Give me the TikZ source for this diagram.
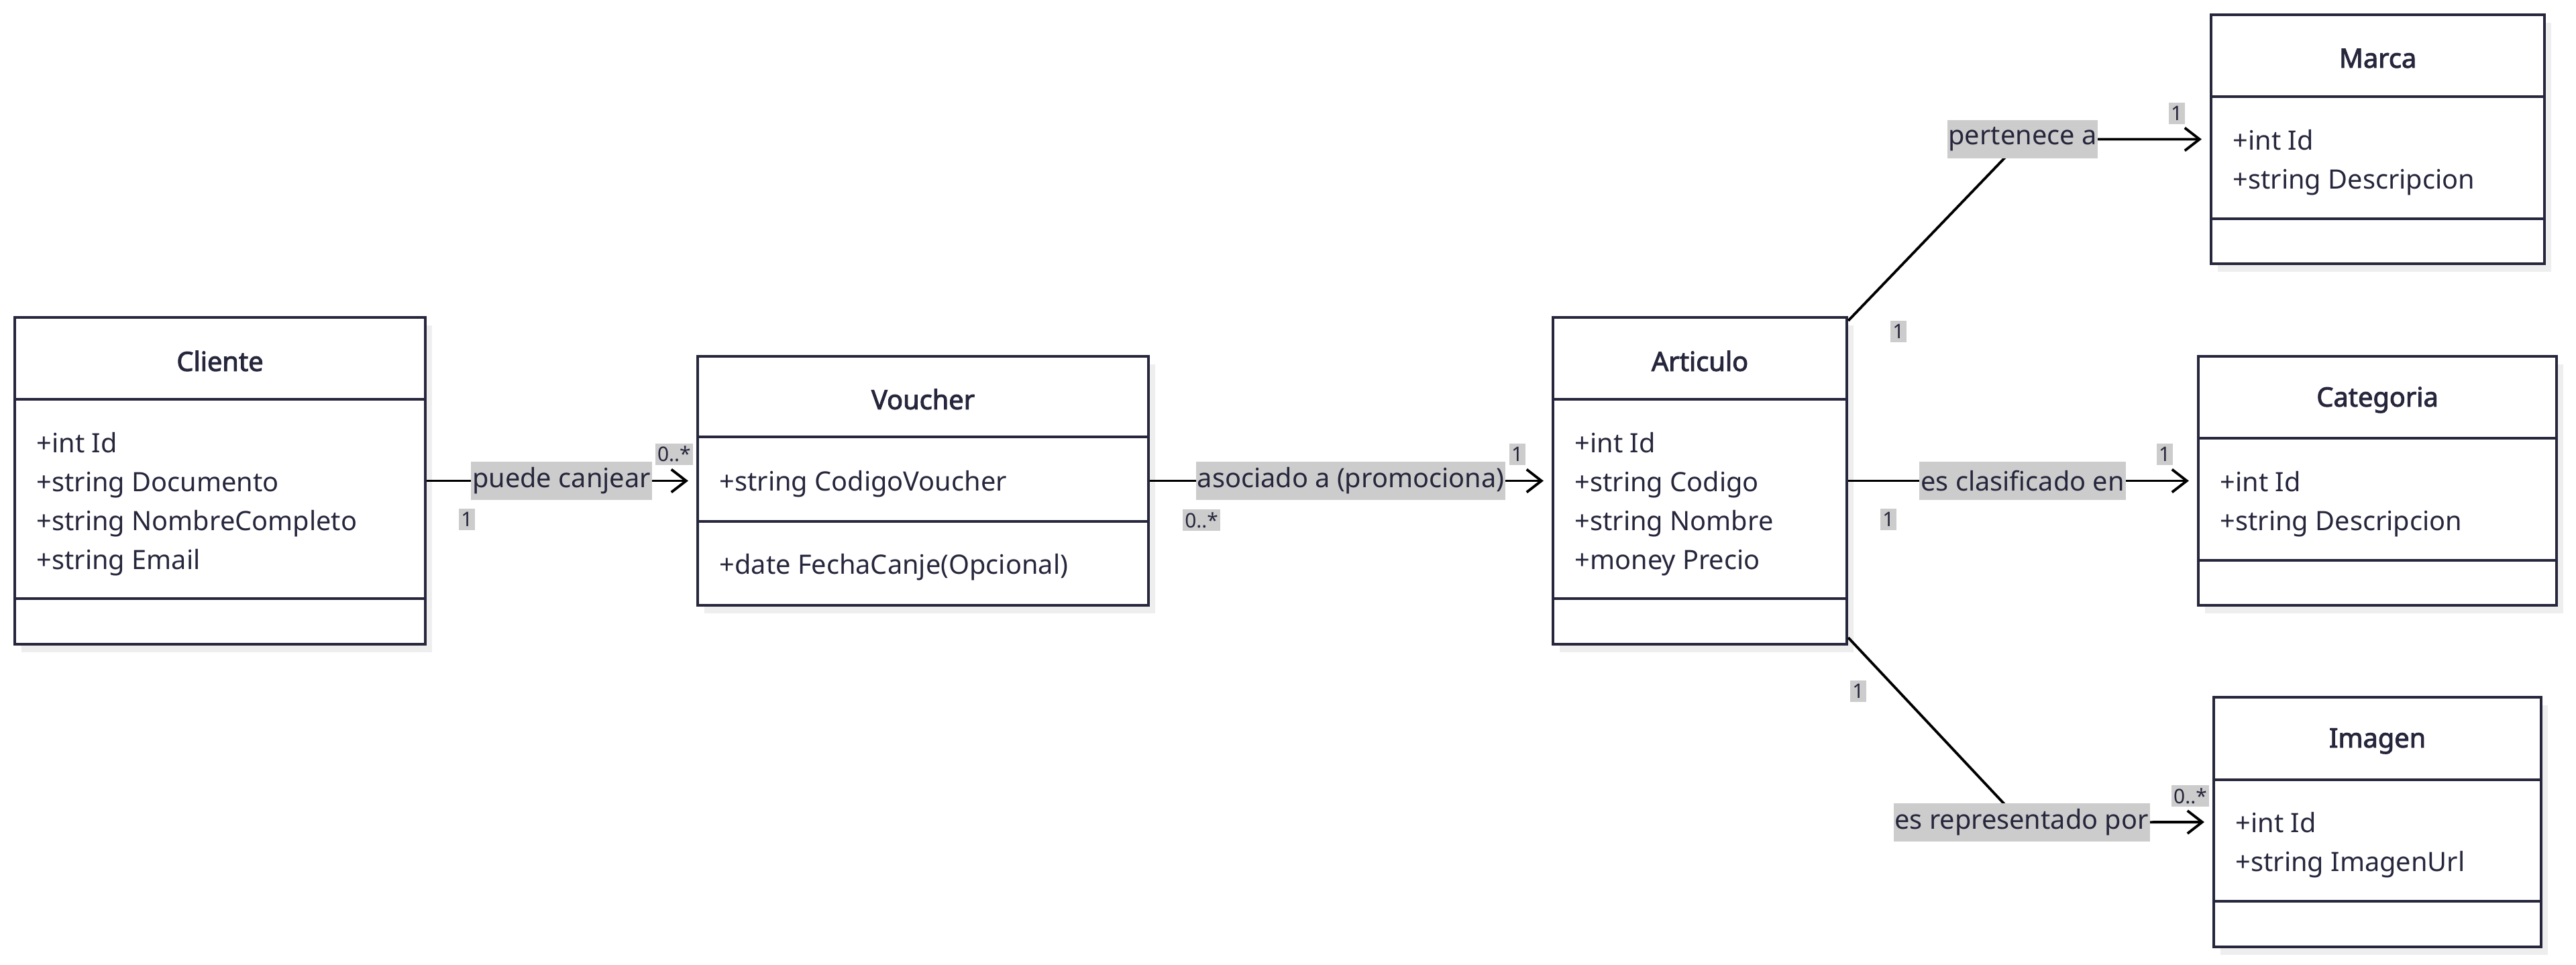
\documentclass[tikz,border=0pt]{standalone}
\usepackage{fontspec}
\setmainfont{Noto Sans}[AutoFakeBold=2.5]
\usetikzlibrary{positioning,calc,arrows.meta,shadows}
\definecolor{ink}{HTML}{26263C}
\definecolor{lblgray}{HTML}{CCCCCC}
\definecolor{shade}{HTML}{EEEEEE}

\begin{document}
\begin{tikzpicture}[cls/.style={draw=ink,line width=1.2pt,fill=white,inner sep=0pt,
drop shadow={shadow xshift=0.1cm,shadow yshift=-0.12cm,fill=shade,opacity=1}},
sep/.style={draw=ink,line width=1.2pt},
title/.style={text=ink,font=\fontsize{11.3}{14}\selectfont\bfseries},
attr/.style={text=ink,anchor=west,align=left,inner sep=0pt,font=\fontsize{11.3}{16.5}\selectfont},
lbl/.style={fill=lblgray,text=ink,inner xsep=0.5pt,inner ysep=0pt,minimum height=0.57cm,font=\fontsize{11.3}{14}\selectfont},
mult/.style={fill=lblgray,text=ink,inner xsep=1pt,inner ysep=0pt,minimum height=0.32cm,font=\fontsize{8.5}{10}\selectfont},
assoc/.style={draw=black,line width=1.1pt,-{Straight Barb[length=0.22cm,width=0.34cm]},shorten >=0.12cm}]

\useasboundingbox (0,0) rectangle (38.4,-14.37);

%classes
\foreach \N/\X/\Y/\W/\H/\A/\B in {cliente/3.28/-7.165/6.12/4.87/1.24/4.21,
	voucher/13.76/-7.165/6.72/3.71/1.22/2.48,
	articulo/25.34/-7.165/4.38/4.87/1.24/4.21,
	marca/35.445/-2.075/4.97/3.71/1.24/3.06,
	categoria/35.44/-7.165/5.34/3.71/1.24/3.06,
	imagen/35.44/-12.25/4.88/3.72/1.25/3.06}
{
	\node[cls,minimum width=\W cm,minimum height=\H cm] (\N) at (\X,\Y) {};
	\draw[sep] ($(\N.north west)+(0,-\A)$) -- ($(\N.north east)+(0,-\A)$);
	\draw[sep] ($(\N.north west)+(0,-\B)$) -- ($(\N.north east)+(0,-\B)$);
}

% titles
\foreach \N/\T/\A in {cliente/Cliente/0.67,voucher/Voucher/0.66,articulo/Articulo/0.67,
	marca/Marca/0.67,categoria/Categoria/0.67,imagen/Imagen/0.675}
	\node[title] (\N-t) at ($(\N.north)+(0,-\A)$) {\T};

% attributes
\node[attr] (cliente-a) at ($(cliente.north west)+(0.34,-2.8)$)
	{+int Id\\+string Documento\\+string NombreCompleto\\+string Email};
\node[attr] (voucher-a) at ($(voucher.north west)+(0.34,-1.92)$) {+string CodigoVoucher};
\node[attr] (voucher-m) at ($(voucher.north west)+(0.34,-3.165)$) {+date FechaCanje(Opcional)};
\node[attr] (articulo-a) at ($(articulo.north west)+(0.34,-2.8)$)
	{+int Id\\+string Codigo\\+string Nombre\\+money Precio};
\node[attr] (marca-a) at ($(marca.north west)+(0.34,-2.22)$) {+int Id\\+string Descripcion};
\node[attr] (categoria-a) at ($(categoria.north west)+(0.34,-2.22)$) {+int Id\\+string Descripcion};
\node[attr] (imagen-a) at ($(imagen.north west)+(0.34,-2.225)$) {+int Id\\+string ImagenUrl};

% relations
\draw[assoc] (cliente.east) -- node[lbl] (l-canjear) {puede canjear} (voucher.west);
\draw[assoc] (voucher.east) -- node[lbl] (l-asociado) {asociado a (promociona)} (articulo.west);
\draw[assoc] (articulo.east) -- node[lbl] (l-clasificado) {es clasificado en} (categoria.west);

\coordinate (k-marca) at (30.15,-2.075);
\coordinate (k-imagen) at (30.135,-12.255);
\draw[assoc] ([yshift=-0.07cm]articulo.north east) -- (k-marca) -- (marca.west);
\draw[assoc] ([yshift=0.12cm]articulo.south east) -- (k-imagen) -- (imagen.west);
\node[lbl] (l-pertenece) at (k-marca) {pertenece a};
\node[lbl] (l-representado) at (k-imagen) {es representado por};

% multiplicities
\node[mult,anchor=north west] (m-cli) at ($(cliente.east)+(0.47,-0.41)$) {1};
\node[mult,anchor=south west] (m-vou1) at ($(voucher.west)+(-0.62,0.23)$) {0..*};
\node[mult,anchor=north west] (m-vou2) at ($(voucher.east)+(0.48,-0.42)$) {0..*};
\node[mult,anchor=south west] (m-art1) at ($(articulo.west)+(-0.64,0.23)$) {1};
\node[mult,anchor=north west] (m-art2) at ($(articulo.east)+(0.47,-0.41)$) {1};
\node[mult,anchor=south west] (m-cat) at ($(categoria.west)+(-0.61,0.23)$) {1};
\node[mult,anchor=north west] (m-art3) at ($(articulo.north east)+(0.62,-0.06)$) {1};
\node[mult,anchor=south west] (m-mar) at ($(marca.west)+(-0.62,0.22)$) {1};
\node[mult,anchor=north west] (m-art4) at ($(articulo.south east)+(0.02,-0.51)$) {1};
\node[mult,anchor=south west] (m-ima) at ($(imagen.west)+(-0.62,0.22)$) {0..*};
\end{tikzpicture}
\end{document}
